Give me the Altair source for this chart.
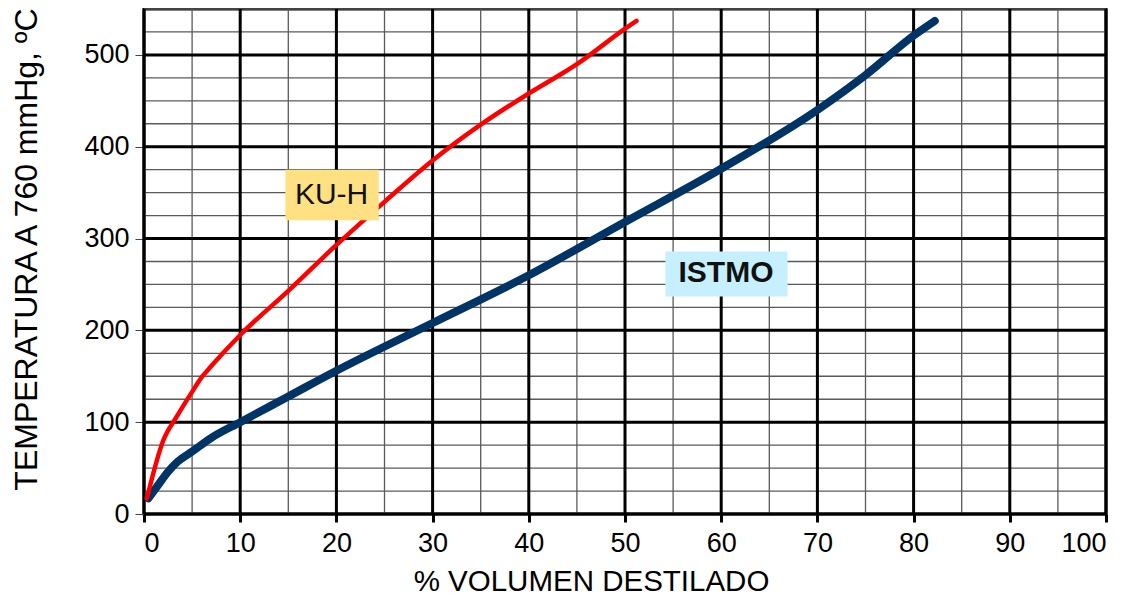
import altair as alt
import pandas as pd

# --- data ---
kuh_x = [0.3, 2.0, 3.4, 5.0, 6.0, 6.9, 10.0, 15.0, 20.0, 25.0, 30.0, 35.0, 40.0, 43.5, 45.0, 50.2, 51.2]
kuh_y = [17, 80, 106, 133, 149, 160, 195, 243, 293, 340, 385, 424, 458, 480, 490, 530, 537]

ist_x = [0.45, 1.5, 2.5, 3.5, 5.0, 7.0, 10.0, 15.0, 20.0, 30.0, 40.0, 50.0, 60.0, 70.0, 75.0, 80.0, 82.2]
ist_y = [17, 32, 46, 57, 68, 83, 100, 128, 156, 208, 260, 318, 376, 440, 478, 521, 537]

x_major = list(range(0, 101, 10))
x_minor = list(range(5, 100, 10))
y_major = list(range(0, 501, 100))
y_minor = [v for v in range(25, 551, 25) if v % 100 != 0]

labels = ["KU-H", "ISTMO"]
label_x = [19.5, 60.5]
label_y = [347, 262]
box_x1 = [14.7, 54.2]
box_x2 = [24.4, 66.9]
box_y1 = [320, 237]
box_y2 = [375, 286]
box_colors = ["#FFE083", "#C6EFFF"]

FONT = "Liberation Sans"

xs = alt.Scale(domain=[0, 100], nice=False)
ys = alt.Scale(domain=[0, 550], nice=False)

xaxis = alt.Axis(values=x_major, grid=False, domain=False, tickSize=8, tickWidth=3,
                 tickColor="black", labelFontSize=27, labelFont=FONT, labelColor="black",
                 labelPadding=8, title="% VOLUMEN DESTILADO", titleFont=FONT,
                 titleFontSize=29.5, titleFontWeight="normal", titleColor="black",
                 titleX=447, titleY=76, titleAnchor="middle", titleBaseline="alphabetic")
yaxis = alt.Axis(values=y_major, grid=False, domain=False, tickSize=9, tickWidth=1,
                 tickColor="#444", labelFontSize=27, labelFont=FONT, labelColor="black",
                 labelPadding=6, title="TEMPERATURA A 760 mmHg, ºC", titleFont=FONT,
                 titleFontSize=32, titleFontWeight="normal", titleColor="black",
                 titleX=-118, titleY=240, titleAngle=-90, titleAlign="center",
                 titleBaseline="middle")


def X(f):
    return alt.X(f, scale=xs, axis=xaxis)


def Y(f):
    return alt.Y(f, scale=ys, axis=yaxis)


df_xmin = pd.DataFrame({"x": x_minor})
df_ymin = pd.DataFrame({"y": y_minor})
df_xmaj = pd.DataFrame({"x": x_major})
df_ymaj = pd.DataFrame({"y": y_major})

xminor = alt.Chart(df_xmin).mark_rule(color="#5a5a5a", strokeWidth=1.3).encode(x=X("x:Q"))
yminor = alt.Chart(df_ymin).mark_rule(color="#5a5a5a", strokeWidth=1.3).encode(y=Y("y:Q"))
xmajor = alt.Chart(df_xmaj).mark_rule(color="black", strokeWidth=3).encode(x=X("x:Q"))
ymajor = alt.Chart(df_ymaj).mark_rule(color="black", strokeWidth=3).encode(y=Y("y:Q"))

df_kuh = pd.DataFrame({"x": kuh_x, "y": kuh_y})
df_ist = pd.DataFrame({"x": ist_x, "y": ist_y})

ist_line = alt.Chart(df_ist).mark_line(color="#003366", strokeWidth=8, strokeCap="round",
                                       interpolate="monotone").encode(x=X("x:Q"), y=Y("y:Q"))
kuh_line = alt.Chart(df_kuh).mark_line(color="#FF0000", strokeWidth=4.5, strokeCap="round",
                                       interpolate="monotone").encode(x=X("x:Q"), y=Y("y:Q"))

df_lab = pd.DataFrame({"label": labels, "x": label_x, "y": label_y,
                       "x1": box_x1, "x2": box_x2, "y1": box_y1, "y2": box_y2,
                       "fill": box_colors})

boxes = alt.Chart(df_lab).mark_rect().encode(
    x=X("x1:Q"), x2="x2:Q", y=Y("y1:Q"), y2="y2:Q",
    color=alt.Color("fill:N", scale=None))

txt_kuh = alt.Chart(df_lab[df_lab["label"] == "KU-H"]).mark_text(
    font=FONT, fontSize=30, color="#111111", align="center", baseline="middle").encode(
    x=X("x:Q"), y=Y("y:Q"), text="label:N")
txt_ist = alt.Chart(df_lab[df_lab["label"] == "ISTMO"]).mark_text(
    font=FONT, fontSize=30, fontWeight="bold", color="#111111", align="center",
    baseline="middle").encode(
    x=X("x:Q"), y=Y("y:Q"), text="label:N")

chart = alt.layer(
    xminor, yminor, xmajor, ymajor, ist_line, kuh_line, boxes, txt_kuh, txt_ist
).properties(
    width=962, height=505,
    autosize=alt.AutoSizeParams(type="none"),
    padding={"left": 136, "top": 1, "right": 12, "bottom": 82},
    background="white",
).configure_view(stroke="black", strokeWidth=3)

chart.save("out.html", embed_options={"renderer": "svg", "actions": False})
